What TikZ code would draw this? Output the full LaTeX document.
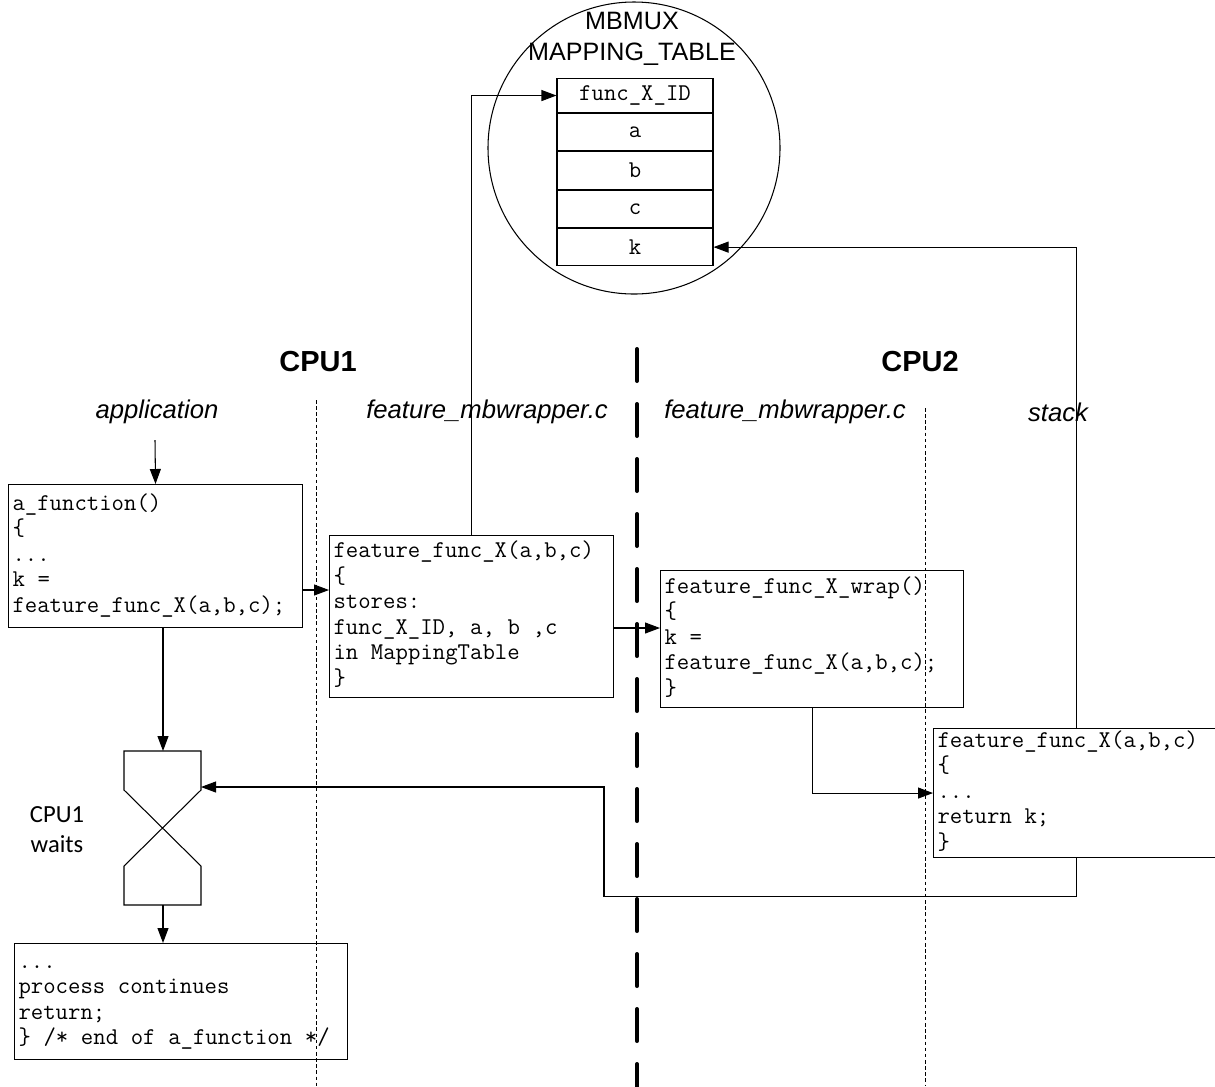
\documentclass[tikz,border=0pt]{standalone}
\usepackage{fontspec}
\setmainfont{Liberation Sans}
\newfontfamily\notefont{Carlito}
\newcommand{\codetxt}{\ttfamily\fontsize{13.7pt}{14.5pt}\selectfont}
\usetikzlibrary{positioning,arrows.meta}

\begin{document}
\begin{tikzpicture}[x = 0.2cm, y = -0.2cm,
  box/.style = {draw, line width=0.6pt, anchor=north west, align=left, inner xsep=0.08cm, inner ysep=0pt, font=\codetxt,
    execute at begin node={\spaceskip=0.525em\xspaceskip=0.525em\relax\strut},
    execute at end node={\strut}},
  cell/.style = {draw, line width=0.6pt, minimum width=3.12cm, minimum height=0.745cm, inner sep=0pt, font=\codetxt},
  arr/.style = {line width=0.6pt, -{Triangle[length=3mm,width=2.2mm]}},
  lane/.style = {line width=0.5pt, dash pattern=on 2pt off 1.5pt},
  head/.style = {font=\fontsize{16.5pt}{20pt}\selectfont\bfseries},
  file/.style = {font=\fontsize{14.6pt}{17pt}\selectfont\itshape}]
\useasboundingbox (0,0) rectangle (121.5,108.6);
\node [draw, circle, line width=0.6pt, minimum size=5.84cm, inner sep=0pt] (mbmux) at (63.4,14.8) {};
\node [align=center, font=\fontsize{14.3pt}{18pt}\selectfont] (mbtitle) at (63.2,3.9) {MBMUX\\MAPPING\_TABLE};
\node [cell, minimum height=0.68cm, anchor=north] (tid) at (63.5,7.8) {func\_X\_ID};
\node [cell, below=0pt of tid] (ta) {a};
\node [cell, below=0pt of ta] (tb) {b};
\node [cell, below=0pt of tb] (tc) {c};
\node [cell, below=0pt of tc] (tk) {k};
\node [head] (cpuone) at (31.8,36.2) {CPU1};
\node [head] (cputwo) at (92.0,36.2) {CPU2};
\node [file] (lapp) at (15.7,41.2) {application};
\node [file] (lwrapone) at (48.7,41.2) {feature\_mbwrapper.c};
\node [file] (lwraptwo) at (78.5,41.2) {feature\_mbwrapper.c};
\node [file] (lstack) at (105.8,41.2) {stack};
\draw [lane] (31.6,40.0) -- (31.6,108.6);
\draw [lane] (92.5,40.8) -- (92.5,108.6);
\draw [line width=0.08cm, line cap=round, dash pattern=on 0.64cm off 0.46cm] (63.7,34.9) -- (63.7,108.8);
\node [box, text width=5.72cm, minimum height=2.86cm] (appbox) at (0.8,48.4) {a\_function()\\\{\\...\\k =\\feature\_func\_X(a,b,c);};
\node [box, text width=5.52cm, minimum height=3.24cm] (wrapone) at (32.9,53.5) {feature\_func\_X(a,b,c)\\\{\\stores:\\func\_X\_ID, a, b ,c\\in MappingTable\\\}};
\node [box, text width=5.90cm, minimum height=2.74cm] (wraptwo) at (66.0,57.0) {feature\_func\_X\_wrap()\\\{\\k =\\feature\_func\_X(a,b,c);\\\}};
\node [box, text width=5.56cm, minimum height=2.58cm] (stackfn) at (93.3,72.8) {feature\_func\_X(a,b,c)\\\{\\...\\return k;\\\}};
\node [box, text width=6.50cm, minimum height=2.32cm] (procbox) at (1.4,94.3) {...\\process continues\\return;\\\} /* end of a\_function */};
\draw [line width=0.6pt] (12.4,75.1) -- (20.1,75.1) -- (20.1,79.0) -- (12.4,86.6) -- (12.4,90.5) -- (20.1,90.5) -- (20.1,86.6) -- (12.4,79.0) -- cycle;
\coordinate (hgtop) at (16.3,75.1);
\coordinate (hgbot) at (16.3,90.5);
\coordinate (hgin) at (20.1,78.7);
\node [align=center, font=\notefont\fontsize{14pt}{17pt}\selectfont] (waits) at (5.7,83.0) {CPU1\\waits};
\coordinate (appin) at (15.5,44.0);
\coordinate (yone) at (0,59.0);
\coordinate (ytwo) at (0,62.8);
\draw [arr] (appin) -- (appbox.north);
\draw [arr] (appbox.east |- yone) -- (wrapone.west |- yone);
\draw [arr] (wrapone.north) |- (tid.west);
\draw [arr] (wrapone.east |- ytwo) -- (wraptwo.west |- ytwo);
\draw [arr] (wraptwo.south) |- (stackfn.west);
\draw [arr] (stackfn.north) |- (tk.east);
\draw [arr] (stackfn.south) -- ++(0,3.8) -| (60.4,78.7) -- (hgin);
\draw [arr] (hgtop |- appbox.south) -- (hgtop);
\draw [arr] (hgbot) -- (hgbot |- procbox.north);
\end{tikzpicture}
\end{document}
